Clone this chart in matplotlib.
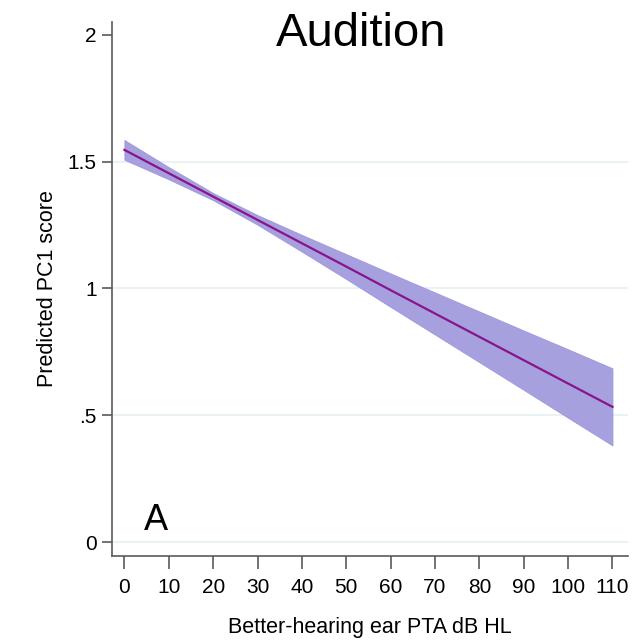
import matplotlib
matplotlib.use("Agg")
import matplotlib.pyplot as plt

plt.rcParams['font.family'] = ['Liberation Sans', 'DejaVu Sans']

# better-hearing ear PTA (dB HL)
pta = [0, 10, 20, 30, 40, 50, 60, 70, 80, 90, 100, 110]
# predicted PC1 score and 95% CI
pred = [1.546, 1.454, 1.362, 1.270, 1.178, 1.086, 0.993, 0.901, 0.809, 0.717, 0.625, 0.533]
ci_upper = [1.585, 1.478, 1.376, 1.289, 1.211, 1.135, 1.059, 0.984, 0.909, 0.834, 0.760, 0.685]
ci_lower = [1.507, 1.430, 1.348, 1.251, 1.145, 1.037, 0.927, 0.818, 0.709, 0.600, 0.490, 0.381]

xticks = [0, 10, 20, 30, 40, 50, 60, 70, 80, 90, 100, 110]
yticks = [0, 0.5, 1, 1.5, 2]
ytick_labels = ['0', '.5', '1', '1.5', '2']

fig = plt.figure(figsize=(6.41, 6.41), dpi=100)
ax = fig.add_axes([0.1747, 0.1326, 0.805, 0.833])

for y in [0, 0.5, 1, 1.5]:
    ax.axhline(y, color='#eaf2f3', lw=1.5, zorder=0)

ax.fill_between(pta, ci_lower, ci_upper, color='#a6a0df', edgecolor='#9f98dc', lw=0.6, zorder=2)
ax.plot(pta, pred, color='#8a1489', lw=1.6, zorder=3)

ax.set_xlim(-2.8, 113.5)
ax.set_ylim(-0.055, 2.05)
ax.set_xticks(xticks)
ax.set_yticks(yticks)
ax.set_yticklabels(ytick_labels)

for s in ['top', 'right']:
    ax.spines[s].set_visible(False)
for s in ['left', 'bottom']:
    ax.spines[s].set_color('#5a5a5a')
    ax.spines[s].set_linewidth(1.2)
ax.tick_params(axis='both', colors='#5a5a5a', labelcolor='black', labelsize=15, width=1.2)
ax.tick_params(axis='x', length=9, pad=7)
ax.tick_params(axis='y', length=7, pad=4)

ax.set_xlabel('Better-hearing ear PTA dB HL', fontsize=15.5, labelpad=14)
ax.set_ylabel('Predicted PC1 score', fontsize=15.5, labelpad=7)

ax.text(7.1, 0.047, 'A', fontsize=26, ha='center', va='baseline')
fig.text(361 / 641, 1 - 12 / 641, 'Audition', fontsize=34, ha='center', va='top')

fig.savefig('out.png', dpi=100)
